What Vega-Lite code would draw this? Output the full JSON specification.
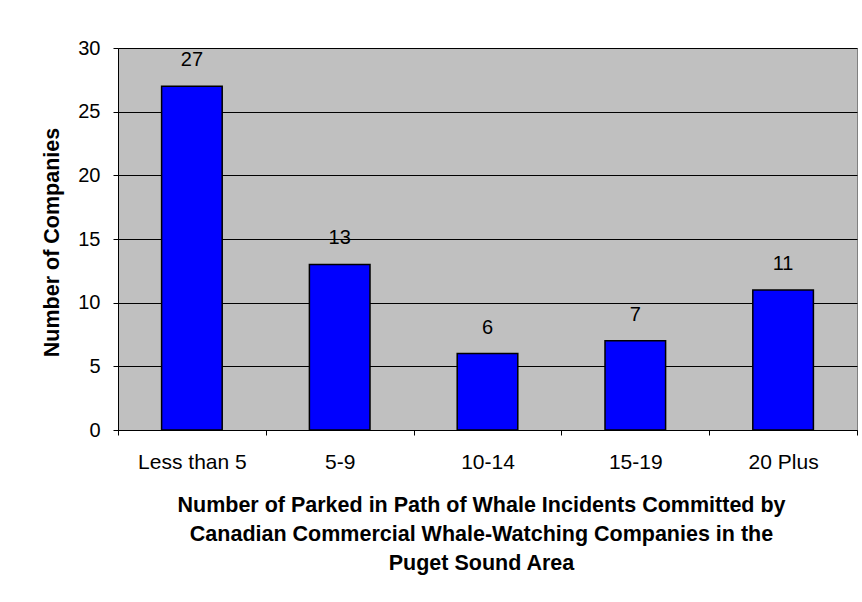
{
  "$schema": "https://vega.github.io/schema/vega-lite/v6.json",
  "width": 739,
  "height": 382,
  "autosize": {"type": "none"},
  "padding": {"left": 118, "top": 48, "right": 5, "bottom": 172},
  "background": "white",
  "config": {
    "font": "Liberation Sans",
    "view": {"fill": "#C0C0C0", "stroke": "#808080", "strokeWidth": 1}
  },
  "data": {
    "values": [
      {"category": "Less than 5", "count": 27},
      {"category": "5-9", "count": 13},
      {"category": "10-14", "count": 6},
      {"category": "15-19", "count": 7},
      {"category": "20 Plus", "count": 11}
    ]
  },
  "encoding": {
    "x": {
      "field": "category",
      "type": "nominal",
      "sort": null,
      "scale": {"paddingInner": 0, "paddingOuter": 0},
      "axis": {
        "title": [
          "Number of Parked in Path of Whale Incidents Committed by",
          "Canadian Commercial Whale-Watching Companies in the",
          "Puget Sound Area"
        ],
        "labelAngle": 0,
        "tickBand": "extent",
        "tickSize": 5,
        "tickColor": "#000000",
        "domainColor": "#000000",
        "labelFontSize": 21,
        "labelPadding": 16,
        "labelColor": "#000000",
        "titleFontSize": 21.5,
        "titleFontWeight": "bold",
        "titleColor": "#000000",
        "titleLineHeight": 29,
        "titleBaseline": "alphabetic",
        "titleX": 363,
        "titleY": 81,
        "titleAlign": "center",
        "grid": false
      }
    },
    "y": {
      "field": "count",
      "type": "quantitative",
      "scale": {"domain": [0, 30]},
      "axis": {
        "title": "Number of Companies",
        "values": [0, 5, 10, 15, 20, 25, 30],
        "grid": true,
        "gridColor": "#000000",
        "gridOpacity": 1,
        "tickSize": 5,
        "tickColor": "#000000",
        "domainColor": "#000000",
        "labelFontSize": 20,
        "labelPadding": 13,
        "labelColor": "#000000",
        "titleFontSize": 21.5,
        "titleFontWeight": "bold",
        "titleColor": "#000000",
        "titleX": -60,
        "titleY": 194,
        "titleBaseline": "alphabetic",
        "titleAngle": -90,
        "titleAlign": "center"
      }
    }
  },
  "layer": [
    {
      "mark": {
        "type": "bar",
        "color": "#0000FF",
        "stroke": "#000000",
        "strokeWidth": 1.5,
        "width": {"band": 0.41}
      }
    },
    {
      "mark": {
        "type": "text",
        "dy": -20,
        "baseline": "alphabetic",
        "fontSize": 20,
        "color": "#000000"
      },
      "encoding": {"text": {"field": "count", "type": "quantitative"}}
    }
  ]
}
